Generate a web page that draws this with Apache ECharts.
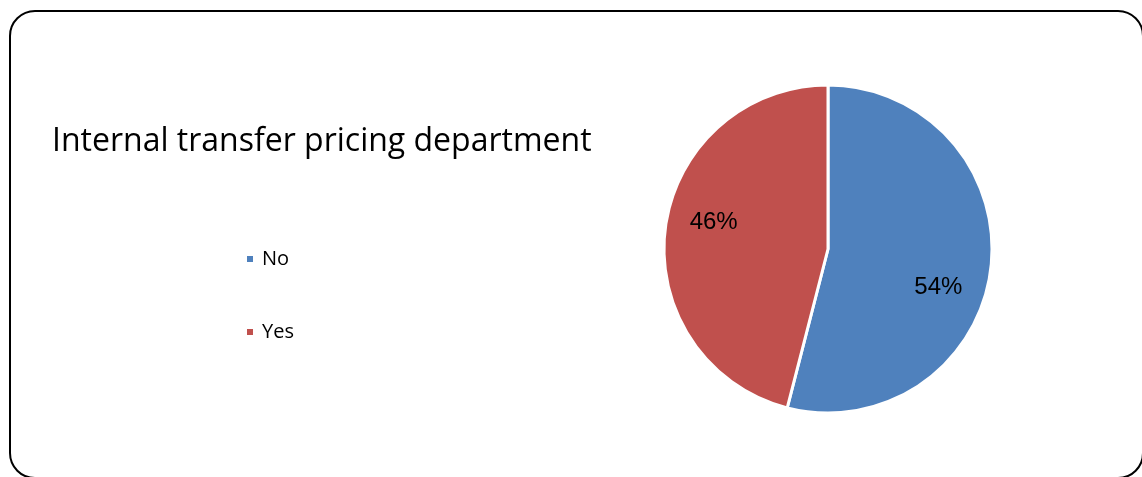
<!DOCTYPE html>
<html>
<head>
<meta charset="utf-8">
<script src="https://cdn.jsdelivr.net/npm/echarts@6/dist/echarts.min.js"></script>
<style>
  html, body { margin: 0; padding: 0; background: #ffffff; }
  #chart { width: 1142px; height: 477px; }
</style>
</head>
<body>
<div id="chart"></div>
<script>
// Survey answers: does the company have an internal transfer pricing department?
const categories = ['No', 'Yes'];
const shares = [54, 46];
const sliceColors = ['#4F81BD', '#C0504D'];
// Nudges that move each percentage label away from the slice mid-radius
const labelOffsets = [[26, 28], [-30, -16]];

const chart = echarts.init(document.getElementById('chart'));

chart.setOption({
  animation: false,
  title: {
    text: 'Internal transfer pricing department',
    left: 47,
    top: 121,
    textStyle: {
      fontFamily: 'Open Sans',
      fontSize: 32,
      fontWeight: 'normal',
      color: '#000000'
    }
  },
  legend: {
    orient: 'vertical',
    left: 245,
    top: 247,
    padding: 0,
    icon: 'rect',
    itemWidth: 8,
    itemHeight: 8,
    itemGap: 49,
    data: categories,
    textStyle: {
      fontFamily: 'Open Sans',
      fontSize: 20,
      lineHeight: 24,
      color: '#000000',
      padding: [0, 0, 0, 3]
    }
  },
  graphic: [{
    type: 'rect',
    shape: { x: 10, y: 11, width: 1133, height: 467, r: 25 },
    style: { fill: 'none', stroke: '#000000', lineWidth: 2 },
    silent: true,
    z: -1
  }],
  series: [{
    type: 'pie',
    center: [828, 249],
    radius: [0, 164],
    startAngle: 90,
    clockwise: true,
    color: sliceColors,
    itemStyle: { borderColor: '#ffffff', borderWidth: 3 },
    label: {
      show: true,
      position: 'inside',
      formatter: '{d}%',
      fontFamily: 'Liberation Sans',
      fontSize: 24,
      color: '#000000'
    },
    labelLine: { show: false },
    emphasis: { disabled: true },
    data: categories.map((name, i) => ({
      name: name,
      value: shares[i],
      label: { offset: labelOffsets[i] }
    }))
  }]
});
</script>
</body>
</html>
